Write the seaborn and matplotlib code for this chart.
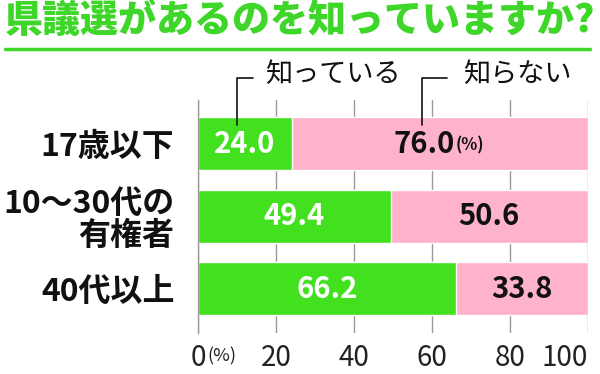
import pandas as pd
import numpy as np
import matplotlib.pyplot as plt
import matplotlib.transforms as mtrans
import seaborn as sns

# data
groups = ['17歳以下', '10〜30代の\n有権者', '40代以上']
know = [24.0, 49.4, 66.2]
not_know = [76.0, 50.6, 33.8]
series_names = ['知っている', '知らない']
x_ticks = [0, 20, 40, 60, 80, 100]
title = '県議選があるのを知っていますか?'

green = '#43E01F'
pink = '#FFB3CB'
title_green = '#3FD62A'

df = pd.DataFrame({'group': groups, 'know': know, 'not_know': not_know})
df['total'] = df['know'] + df['not_know']

sns.set_theme(style='white')
plt.rcParams['font.family'] = ['Noto Sans CJK JP', 'DejaVu Sans']

fig = plt.figure(figsize=(6, 3.74), dpi=100)
ax = fig.add_axes([0.33, 0.1096, 0.65, 0.623])

# stacked bars: full length pink, green on top
sns.barplot(data=df, x='total', y='group', color=pink, width=0.73,
            saturation=1, ax=ax, orient='h')
sns.barplot(data=df, x='know', y='group', color=green, width=0.73,
            saturation=1, ax=ax, orient='h')

ax.set_xlim(0, 100)
ax.set_ylim(2.61, -0.6)
ax.set_xlabel('')
ax.set_ylabel('')

ax.set_axisbelow(True)
ax.xaxis.grid(True, color='#9a9a9a', lw=1)
for s in ['top', 'right', 'bottom']:
    ax.spines[s].set_visible(False)
ax.spines['left'].set_color('#9a9a9a')
ax.spines['left'].set_linewidth(1)

ax.set_xticks(x_ticks)
ax.set_xticklabels([str(t) for t in x_ticks], fontsize=20, color='#222222')
ax.tick_params(axis='x', length=0, pad=7)
ax.get_xticklabels()[-1].set_horizontalalignment('right')
ax.get_xticklabels()[-1].set_x(101.5)
ax.set_yticks(range(len(groups)))
ax.set_yticklabels(groups, fontsize=23, fontweight='bold', color='#111111',
                   linespacing=1.0)
ax.tick_params(axis='y', length=0, pad=17)

# "(%)" next to 0 tick
tr = mtrans.blended_transform_factory(ax.transData, ax.transAxes)
ax.text(2.3, -0.1, '(%)', transform=tr, fontsize=13, ha='left', va='center',
        color='#222222')

# value labels
for i, (k, n) in enumerate(zip(know, not_know)):
    ax.text(k / 2, i, f'{k:.1f}', ha='center', va='center', fontsize=21,
            fontweight='bold', color='white')
    mid = k + n / 2
    if i == 0:
        ax.text(mid + 3.9, i, f'{n:.1f}', ha='right', va='center', fontsize=21,
                fontweight='bold', color='#111111')
        ax.text(mid + 4.1, i + 0.03, '(%)', ha='left', va='center', fontsize=12,
                fontweight='bold', color='#111111')
    else:
        ax.text(mid, i, f'{n:.1f}', ha='center', va='center', fontsize=21,
                fontweight='bold', color='#111111')

# legend callouts
callouts = [(10.0, 14.1, 17.2, series_names[0]), (57.4, 63.8, 68.0, series_names[1])]
for xv, xh, xt, name in callouts:
    ax.plot([xh, xv, xv], [-0.903, -0.903, -0.26], color='#111111', lw=1.2,
            clip_on=False, zorder=5)
    ax.text(xt, -0.95, name, ha='left', va='center', fontsize=19.5,
            color='#111111', clip_on=False)

# title and rule
fig.text(0.008, 0.944, title, ha='left', va='center', fontsize=27.4,
         fontweight='black', color=title_green)
fig.add_artist(plt.Line2D([0.008, 0.983], [0.87, 0.87], color=title_green,
                          lw=2.5, transform=fig.transFigure))

fig.savefig('out.png', dpi=100)
